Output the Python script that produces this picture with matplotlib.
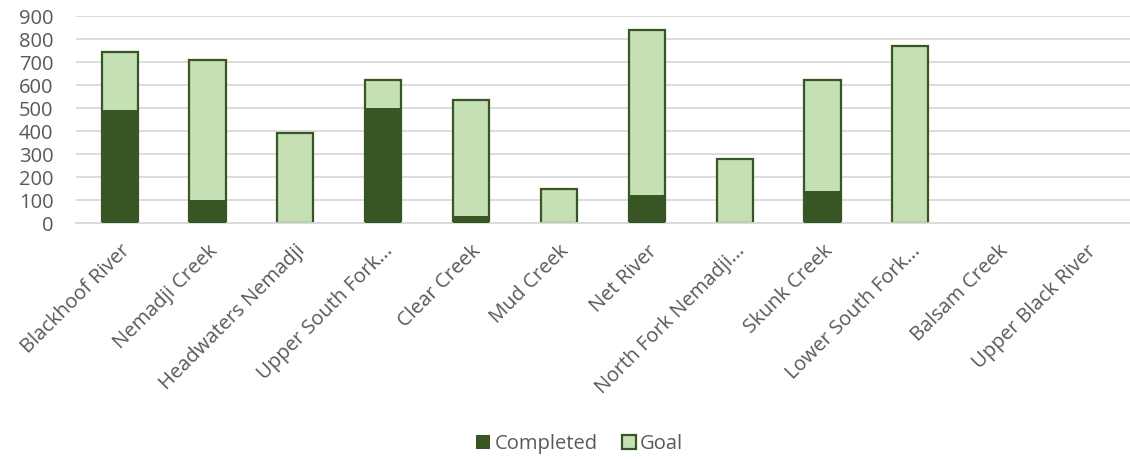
import matplotlib
matplotlib.use("Agg")
import matplotlib.pyplot as plt
import numpy as np

# Données
watersheds = ["Blackhoof River", "Nemadji Creek", "Headwaters Nemadji", "Upper South Fork...",
              "Clear Creek", "Mud Creek", "Net River", "North Fork Nemadji...",
              "Skunk Creek", "Lower South Fork...", "Balsam Creek", "Upper Black River"]
goal = [745, 710, 390, 620, 535, 150, 840, 280, 620, 770, 0, 0]
completed = [490, 100, 0, 500, 30, 0, 120, 0, 140, 0, 0, 0]

DARK = "#375623"
LIGHT = "#c5e0b4"
GREY = "#595959"

plt.rcParams["font.family"] = ["Open Sans", "DejaVu Sans"]

fig = plt.figure(figsize=(11.3, 4.59), dpi=100)
ax = fig.add_axes([0.067, 0.514, 0.933, 0.451])

x = np.arange(len(watersheds))
# pas de contour pour les barres vides
lw = [1.6 if g > 0 else 0 for g in goal]
ax.bar(x, goal, width=0.41, color=LIGHT, edgecolor=DARK, linewidth=lw, label="Goal", zorder=2)
ax.bar(x, completed, width=0.41, color=DARK, linewidth=0, label="Completed", zorder=3)

ax.set_xlim(-0.5, len(watersheds) - 0.5)
ax.set_ylim(0, 900)
ax.set_yticks(range(0, 901, 100))
ax.yaxis.grid(True, color="#d9d9d9", linewidth=1.3, zorder=0)
ax.set_axisbelow(True)
for s in ["top", "right", "left"]:
    ax.spines[s].set_visible(False)
ax.spines["bottom"].set_color("#d9d9d9")
ax.spines["bottom"].set_linewidth(1.3)
ax.tick_params(axis="both", length=0, colors=GREY, labelsize=14.5)
ax.tick_params(axis="y", pad=16)
ax.tick_params(axis="x", pad=13)
ax.set_xticks(x)
ax.set_xticklabels(watersheds, rotation=45, ha="right", rotation_mode="anchor")

handles, labels = ax.get_legend_handles_labels()
fig.legend(handles[::-1], labels[::-1], loc="center", bbox_to_anchor=(0.513, 0.033), ncol=2,
           frameon=False, fontsize=14.5, labelcolor=GREY, handlelength=0.7, handleheight=0.7,
           handletextpad=0.2, columnspacing=1.2)

fig.savefig("out.png", dpi=100)
